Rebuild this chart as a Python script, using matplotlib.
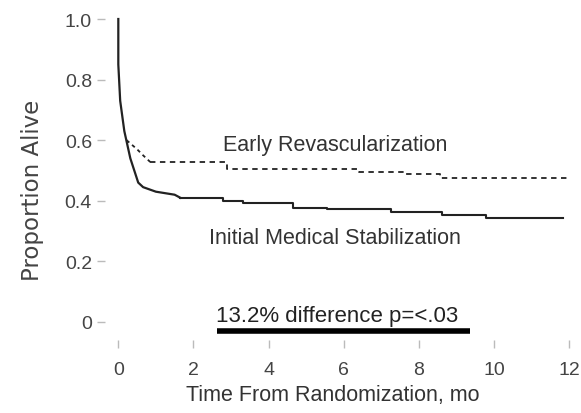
import matplotlib
matplotlib.use('Agg')
import matplotlib.pyplot as plt

plt.rcParams['font.family'] = ['Liberation Sans', 'DejaVu Sans']

# early drop (both arms share it)
early_t = [0.0, 0.0, 0.05, 0.16, 0.32, 0.53, 0.66, 1.0, 1.5, 1.65]
early_s = [1.0, 0.85, 0.73, 0.63, 0.54, 0.46, 0.445, 0.43, 0.42, 0.41]

# Initial medical stabilization, step part
med_t = [1.65, 2.8, 3.33, 4.66, 5.56, 7.27, 8.62, 9.79, 11.85]
med_s = [0.41, 0.40, 0.393, 0.376, 0.373, 0.363, 0.353, 0.343, 0.343]

# Early revascularization
rev_early_t = [0.22, 0.5, 0.66, 0.85]
rev_early_s = [0.60, 0.57, 0.55, 0.528]
rev_t = [0.85, 2.9, 6.4, 7.6, 8.56, 12.0]
rev_s = [0.528, 0.505, 0.495, 0.488, 0.475, 0.475]

xticks = [0, 2, 4, 6, 8, 10, 12]
yticks = [0, 0.2, 0.4, 0.6, 0.8, 1.0]
ytick_labels = ['0', '0.2', '0.4', '0.6', '0.8', '1.0']

fig = plt.figure(figsize=(5.81, 4.14), dpi=100)
ax = fig.add_axes([0.181, 0.176, 0.805, 0.783])

line_col = '#222222'
ax.plot(early_t, early_s, color=line_col, lw=1.6)
ax.plot(med_t, med_s, color=line_col, lw=1.5, drawstyle='steps-post')
ax.plot(rev_early_t, rev_early_s, color=line_col, lw=1.3, ls=(0, (2, 2)))
ax.plot(rev_t, rev_s, color=line_col, lw=1.3, ls=(0, (3, 2.5)), drawstyle='steps-post')

ax.set_xlim(-0.35, 12.1)
ax.set_ylim(-0.06, 1.01)
ax.set_xticks(xticks)
ax.set_yticks(yticks)
ax.set_yticklabels(ytick_labels)
for s in ax.spines.values():
    s.set_visible(False)
ax.tick_params(colors='#bbbbbb', labelcolor='#444444', labelsize=14, length=6, width=1)
ax.tick_params(axis='x', pad=9)

ax.set_xlabel('Time From Randomization, mo', fontsize=15.5, color='#333333')
ax.set_ylabel('Proportion Alive', fontsize=16.5, color='#444444',
              family=['DejaVu Sans'])
ax.xaxis.set_label_coords(0.487, -0.135)
ax.yaxis.set_label_coords(-0.13, 0.466)

ax.text(5.77, 0.587, 'Early Revascularization', fontsize=15.5, color='#333333',
        ha='center', va='center')
ax.text(5.77, 0.28, 'Initial Medical Stabilization', fontsize=15.5, color='#333333',
        ha='center', va='center')
ax.text(2.6, 0.02, '13.2% difference p=<.03', fontsize=16, color='#222222',
        ha='left', va='center')
ax.plot([2.63, 9.36], [-0.03, -0.03], color='black', lw=4, solid_capstyle='butt')

fig.savefig('out.png', dpi=100)
